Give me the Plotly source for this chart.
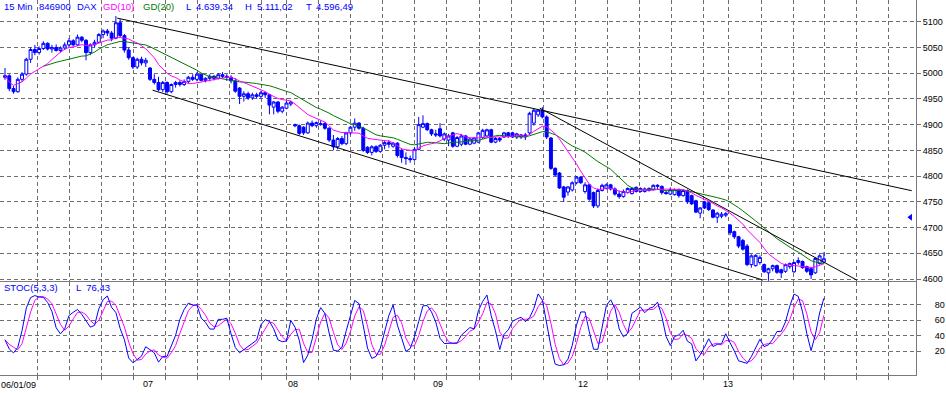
import plotly.graph_objects as go
import pandas as pd

# ---------------- data ----------------
opens = [
    4992, 4995, 4970, 4964, 4988, 4998, 5027, 5046, 5040, 5048, 5058, 5047, 5050, 5044, 5049, 5055, 5063,
    5055, 5070, 5064, 5040, 5055, 5060, 5075, 5082, 5078, 5068, 5098, 5073, 5045, 5030, 5012, 5027, 5020,
    5010, 4988, 4982, 4968, 4982, 4964, 4978, 4982, 4978, 4984, 4992, 4988, 4998, 4986, 4990, 4994, 4990,
    4997, 4994, 4992, 4985, 4971, 4955, 4960, 4952, 4958, 4955, 4962, 4958, 4934, 4944, 4926, 4932, 4940,
    4900, 4898, 4895, 4884, 4903, 4898, 4900, 4902, 4893, 4870, 4857, 4873, 4863, 4884, 4895, 4903, 4893,
    4856, 4846, 4857, 4848, 4860, 4865, 4858, 4864, 4850, 4836, 4834, 4832, 4852, 4895, 4902, 4890, 4882,
    4892, 4872, 4870, 4884, 4858, 4862, 4878, 4862, 4864, 4866, 4875, 4878, 4890, 4866, 4873, 4876, 4884,
    4884, 4876, 4876, 4880, 4884, 4903, 4919, 4928, 4915, 4874, 4815, 4806, 4779, 4769, 4773, 4787, 4798,
    4770, 4783, 4768, 4742, 4772, 4776, 4783, 4775, 4765, 4760, 4768, 4766, 4778, 4770, 4770, 4772, 4774,
    4780, 4780, 4768, 4765, 4764, 4774, 4762, 4772, 4762, 4752, 4728, 4750, 4748, 4734, 4720, 4722, 4724,
    4705, 4692, 4682, 4675, 4664, 4628, 4626, 4632, 4628, 4612, 4620, 4626, 4618, 4615, 4624, 4614, 4632,
    4634, 4624, 4620, 4612, 4630, 4633,
]
highs = [
    5010, 4998, 4975, 4992, 5002, 5030, 5050, 5055, 5052, 5062, 5060, 5055, 5056, 5052, 5060, 5068, 5066,
    5075, 5072, 5066, 5058, 5065, 5078, 5085, 5086, 5082, 5111.02, 5105, 5076, 5050, 5032, 5030, 5032, 5030,
    5012, 4998, 4993, 4985, 4984, 4980, 4985, 4986, 4988, 4995, 4998, 5002, 5000, 4992, 4998, 4996, 5000,
    5002, 4998, 4996, 4990, 4973, 4965, 4964, 4962, 4962, 4966, 4964, 4960, 4946, 4946, 4936, 4945, 4946,
    4902, 4900, 4897, 4906, 4908, 4906, 4908, 4905, 4895, 4880, 4876, 4878, 4886, 4897, 4912, 4905, 4896,
    4858, 4860, 4860, 4862, 4868, 4870, 4866, 4866, 4854, 4846, 4840, 4856, 4915, 4918, 4904, 4892, 4890,
    4903, 4885, 4882, 4886, 4878, 4882, 4880, 4875, 4876, 4886, 4892, 4892, 4892, 4876, 4876, 4886, 4886,
    4886, 4884, 4882, 4884, 4925, 4932, 4930, 4934, 4918, 4876, 4817, 4808, 4781, 4780, 4790, 4800, 4800,
    4788, 4785, 4770, 4776, 4785, 4786, 4785, 4778, 4772, 4774, 4778, 4778, 4780, 4778, 4778, 4778, 4784,
    4784, 4782, 4772, 4778, 4776, 4776, 4774, 4774, 4764, 4754, 4740, 4752, 4750, 4736, 4730, 4730, 4730,
    4707, 4694, 4684, 4678, 4668, 4648, 4648, 4646, 4630, 4622, 4628, 4628, 4620, 4630, 4632, 4634, 4642,
    4636, 4626, 4622, 4642, 4648, 4652,
]
lows = [
    4987, 4965, 4960, 4962, 4983, 4995, 5020, 5035, 5036, 5045, 5044, 5040, 5042, 5040, 5045, 5050, 5052,
    5053, 5060, 5025, 5035, 5050, 5058, 5068, 5072, 5062, 5066, 5070, 5040, 5026, 5008, 5008, 5015, 5012,
    4985, 4978, 4965, 4963, 4960, 4961, 4972, 4974, 4975, 4980, 4985, 4984, 4984, 4982, 4984, 4986, 4988,
    4990, 4985, 4980, 4962, 4940, 4945, 4948, 4948, 4950, 4950, 4952, 4920, 4920, 4922, 4922, 4930, 4936,
    4895, 4880, 4880, 4882, 4895, 4894, 4898, 4890, 4866, 4850, 4852, 4860, 4860, 4880, 4888, 4890, 4847,
    4843, 4840, 4845, 4845, 4852, 4855, 4855, 4836, 4826, 4822, 4826, 4830, 4850, 4893, 4888, 4878, 4876,
    4875, 4868, 4858, 4855, 4856, 4858, 4860, 4860, 4862, 4864, 4872, 4876, 4864, 4864, 4866, 4874, 4874,
    4874, 4872, 4872, 4870, 4880, 4898, 4915, 4912, 4872, 4812, 4800, 4775, 4750, 4762, 4770, 4784, 4785,
    4766, 4752, 4738, 4738, 4770, 4774, 4772, 4762, 4756, 4758, 4766, 4764, 4768, 4768, 4768, 4770, 4772,
    4774, 4764, 4764, 4763, 4762, 4758, 4760, 4746, 4744, 4728, 4718, 4736, 4732, 4718, 4709, 4718, 4720,
    4685, 4678, 4660, 4655, 4625, 4622, 4624, 4628, 4612, 4596.49, 4615, 4610, 4602, 4612, 4620, 4612, 4628,
    4620, 4612, 4600, 4610, 4628, 4630,
]
closes = [
    4995, 4970, 4964, 4988, 4998, 5027, 5046, 5040, 5048, 5058, 5047, 5050, 5044, 5049, 5055, 5063, 5055,
    5070, 5064, 5040, 5055, 5060, 5075, 5082, 5078, 5068, 5098, 5073, 5045, 5030, 5012, 5027, 5020, 5025,
    4988, 4982, 4968, 4982, 4964, 4978, 4982, 4978, 4984, 4992, 4988, 4998, 4986, 4990, 4994, 4990, 4997,
    4994, 4992, 4985, 4965, 4955, 4960, 4952, 4958, 4955, 4962, 4958, 4938, 4944, 4926, 4934, 4942, 4944,
    4898, 4883, 4884, 4903, 4898, 4904, 4902, 4893, 4870, 4857, 4873, 4863, 4884, 4895, 4903, 4893, 4850,
    4846, 4857, 4848, 4860, 4865, 4862, 4864, 4840, 4836, 4834, 4832, 4852, 4900, 4902, 4890, 4882, 4880,
    4878, 4882, 4878, 4858, 4875, 4878, 4862, 4872, 4874, 4884, 4889, 4890, 4866, 4873, 4870, 4884, 4878,
    4876, 4882, 4880, 4876, 4922, 4928, 4928, 4915, 4876, 4815, 4802, 4777, 4759, 4779, 4787, 4798, 4787,
    4783, 4755, 4742, 4772, 4782, 4783, 4775, 4765, 4760, 4770, 4776, 4776, 4770, 4776, 4775, 4776, 4782,
    4782, 4768, 4766, 4774, 4774, 4762, 4772, 4750, 4746, 4730, 4738, 4738, 4735, 4720, 4728, 4726, 4727,
    4690, 4682, 4664, 4658, 4628, 4645, 4646, 4642, 4614, 4620, 4626, 4613, 4612, 4628, 4630, 4632, 4636,
    4622, 4615, 4608, 4640, 4645, 4639.34,
]

first_day_label = "06/01/09"
day_labels = ["07", "08", "09", "12", "13"]
day_boundaries = [33.5, 67.5, 101.5, 135.5, 169.5]       # bar index between days

price_ticks = [4600, 4650, 4700, 4750, 4800, 4850, 4900, 4950, 5000, 5050, 5100]
stoch_ticks = [20, 40, 60, 80]
grid_bars = [7.67, 15.17, 22.67, 30.13, 37.68, 45.18, 52.64, 60.09, 66.05, 73.46, 81.06, 88.46, 95.97,
             103.56, 111.14, 118.64, 126.21, 133.72, 141.22, 148.72, 156.32, 163.89, 169.75, 177.42,
             184.83, 192.26, 199.65, 207.1]

# trend lines drawn on the chart: start bar/price, end bar/price
trend_start_bar = [26.3, 34.6, 125.4]
trend_start_price = [5107.0, 4967.0, 4932.0]
trend_end_bar = [212.6, 177.7, 199.7]
trend_end_price = [4771.6, 4598.0, 4598.0]

marker_bar = [212.3]
marker_price = [4720.0]

header_info = {"interval": "15 Min", "code": "846900", "name": "DAX",
               "last": "4.639,34", "high": "5.111,02", "low": "4.596,49"}
stoch_last = "76,43"

# ---------------- derived indicators ----------------
x = list(range(len(closes)))
c = pd.Series(closes, dtype=float)
h = pd.Series(highs, dtype=float)
l = pd.Series(lows, dtype=float)
ma10 = c.rolling(10, min_periods=1).mean()
ma20 = c.rolling(20, min_periods=10).mean()
hh = h.rolling(5, min_periods=1).max()
ll = l.rolling(5, min_periods=1).min()
raw_k = 100 * (c - ll) / (hh - ll)
stoch_k = raw_k.rolling(3, min_periods=1).mean()
stoch_d = stoch_k.rolling(3, min_periods=1).mean()

# ---------------- styling ----------------
BLUE = "#0000ff"
MAGENTA = "#ff00ff"
GREEN = "#007800"
GRID = "#6e6e6e"
BORDER = "#7a7a7a"
FONT = "Liberation Sans"
PLOT_W = 916
PX_PER_BAR = 4.265
X0 = -5 / PX_PER_BAR
XR = [X0, X0 + PLOT_W / PX_PER_BAR]
SPLIT = 92.7 / 375

fig = go.Figure()
fig.add_trace(go.Candlestick(
    x=x, open=opens, high=highs, low=lows, close=closes,
    increasing=dict(line=dict(color=BLUE, width=1), fillcolor="white"),
    decreasing=dict(line=dict(color=BLUE, width=1), fillcolor=BLUE),
    whiskerwidth=0, xaxis="x", yaxis="y", hoverinfo="skip", showlegend=False))
fig.add_trace(go.Scatter(x=x, y=ma20, mode="lines", line=dict(color=GREEN, width=1),
                         xaxis="x", yaxis="y", hoverinfo="skip"))
fig.add_trace(go.Scatter(x=x, y=ma10, mode="lines", line=dict(color=MAGENTA, width=1),
                         xaxis="x", yaxis="y", hoverinfo="skip"))
for i in range(len(trend_start_bar)):
    fig.add_trace(go.Scatter(x=[trend_start_bar[i], trend_end_bar[i]],
                             y=[trend_start_price[i], trend_end_price[i]],
                             mode="lines", line=dict(color="black", width=1),
                             xaxis="x", yaxis="y", hoverinfo="skip"))
fig.add_trace(go.Scatter(x=marker_bar, y=marker_price, mode="markers",
                         marker=dict(symbol="triangle-left", size=6, color=BLUE),
                         xaxis="x", yaxis="y", hoverinfo="skip", cliponaxis=False))

fig.add_trace(go.Scatter(x=x, y=stoch_d, mode="lines", line=dict(color=MAGENTA, width=1),
                         xaxis="x2", yaxis="y2", hoverinfo="skip"))
fig.add_trace(go.Scatter(x=x, y=stoch_k, mode="lines", line=dict(color=BLUE, width=1),
                         xaxis="x2", yaxis="y2", hoverinfo="skip"))

tickfont = dict(family=FONT, size=9, color="black")
fig.update_layout(
    width=946, height=393,
    margin=dict(l=0, r=946 - PLOT_W, t=0, b=18),
    paper_bgcolor="white", plot_bgcolor="white",
    showlegend=False, boxgap=0.02,
    xaxis=dict(domain=[0, 1], anchor="y", range=XR, rangeslider=dict(visible=False),
               tickmode="array", tickvals=grid_bars, showticklabels=False, ticks="",
               showgrid=True, gridcolor=GRID, griddash="4px,3px", gridwidth=1, zeroline=False),
    yaxis=dict(domain=[SPLIT, 1], anchor="x", side="right", range=[4593.6, 5142.2],
               tickmode="array", tickvals=price_ticks, ticktext=[str(v) for v in price_ticks],
               showgrid=True, gridcolor=GRID, griddash="4px,3px", gridwidth=1,
               ticks="outside", ticklen=4, tickcolor=GRID, showline=True, linecolor=BORDER,
               linewidth=1, zeroline=False, tickfont=tickfont),
    xaxis2=dict(domain=[0, 1], anchor="y2", range=XR, matches="x",
                tickmode="array", tickvals=day_boundaries, ticktext=day_labels, ticks="",
                showgrid=False, zeroline=False, showline=True, mirror=True,
                linecolor=BORDER, linewidth=1, tickfont=tickfont,
                minor=dict(tickmode="array", tickvals=grid_bars, showgrid=True, gridcolor=GRID,
                           griddash="4px,3px", gridwidth=1, ticks="outside", ticklen=4,
                           tickcolor=GRID)),
    yaxis2=dict(domain=[0, SPLIT], anchor="x2", side="right", range=[-10.5, 108.8],
                tickmode="array", tickvals=stoch_ticks, showgrid=True, gridcolor=GRID,
                griddash="4px,3px", gridwidth=1, ticks="outside", ticklen=4, tickcolor=GRID,
                showline=True, linecolor=BORDER, linewidth=1, zeroline=False,
                tickfont=tickfont, ticklabelstandoff=12),
)

def px(v):
    return v / PLOT_W

hdr_y = 1 - 6 / 375
header = [
    (3, header_info["interval"], BLUE), (38, header_info["code"], BLUE), (76, header_info["name"], BLUE),
    (102, "GD(10)", MAGENTA), (142, "GD(20)", GREEN),
    (185, "L", BLUE), (195, header_info["last"], BLUE),
    (244, "H", BLUE), (256, header_info["high"], BLUE),
    (305, "T", BLUE), (315, header_info["low"], BLUE),
]
for xp, txt, col in header:
    fig.add_annotation(x=px(xp), y=hdr_y, xref="paper", yref="paper", text=txt, showarrow=False,
                       xanchor="left", yanchor="middle", font=dict(family=FONT, size=9.5, color=col),
                       borderpad=0)

st_y = (375 - 287.7) / 375
fig.add_annotation(x=px(3), y=st_y, xref="paper", yref="paper", text="STOC(5,3,3)", showarrow=False,
                   xanchor="left", yanchor="middle", font=dict(family=FONT, size=9.5, color=BLUE), borderpad=0)
fig.add_annotation(x=px(75), y=st_y, xref="paper", yref="paper", text="L  " + stoch_last, showarrow=False,
                   xanchor="left", yanchor="middle", font=dict(family=FONT, size=9.5, color=BLUE), borderpad=0)
fig.add_annotation(x=0, y=-(384.5 - 375) / 375, xref="paper", yref="paper", text=first_day_label,
                   showarrow=False, xanchor="left", yanchor="middle", font=tickfont, borderpad=0)

fig.write_html("out.html", config={"displayModeBar": False},
               post_script="document.body.style.margin='0px';document.body.style.overflow='hidden';")
